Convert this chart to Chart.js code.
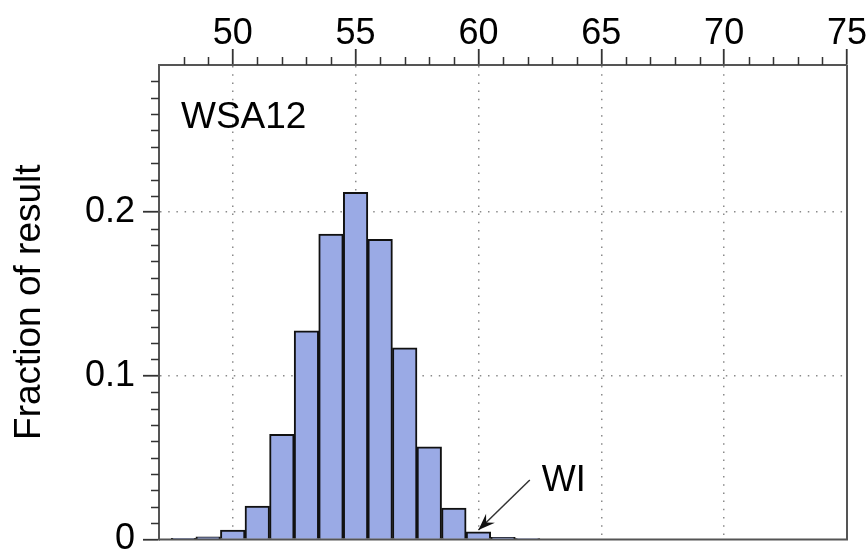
<!DOCTYPE html>
<html>
<head>
<meta charset="utf-8">
<script src="https://cdn.jsdelivr.net/npm/chart.js@4.4.1/dist/chart.umd.min.js"></script>
<style>
  html, body { margin: 0; padding: 0; background: #fff; overflow: hidden; }
  #wrap { width: 868px; height: 580px; }
</style>
</head>
<body>
<div id="wrap"><canvas id="hist" width="868" height="580"></canvas></div>
<script>
/* Histogram · WSA12 · fraction of result per bin */

var BIN_CENTERS = [48, 49, 50, 51, 52, 53, 54, 55, 56, 57, 58, 59, 60, 61, 62];
var FRACTIONS   = [0.0006, 0.0016, 0.0057, 0.0204, 0.0642, 0.1275, 0.1866, 0.2122,
                   0.1835, 0.1171, 0.0566, 0.0192, 0.0047, 0.0013, 0.0005];

var X_TICKS = [50, 55, 60, 65, 70, 75];
var Y_TICKS = [0, 0.1, 0.2];
var Y_TICK_LABELS = ['0', '0.1', '0.2'];

var X_MIN = 47, X_MAX = 75;
var Y_MIN = 0,  Y_MAX = 0.29;

var PANEL_LABEL = 'WSA12';
var ARROW_LABEL = 'WI';
// arrow tail / tip, in data units
var ARROW_FROM = [62.09, 0.0363];
var ARROW_TO   = [60.0, 0.0057];

var FONT = '"Liberation Sans", Arial, Helvetica, sans-serif';
var AXIS = '#555';
var TICK = '#333';
var GRID = '#8a8a8a';
var FILL = '#9aaae5';

var barData = BIN_CENTERS.map(function(x, i) { return { x: x, y: FRACTIONS[i] }; });

var decorPlugin = {
    id: 'decor',
    afterDraw: function(chart) {
        var ctx = chart.ctx;
        var xs = chart.scales.x, ys = chart.scales.y;
        var a = chart.chartArea;
        ctx.save();

        // minor ticks
        ctx.strokeStyle = TICK;
        ctx.lineWidth = 1.5;
        ctx.beginPath();
        for (var v = X_MIN + 1; v < X_MAX; v++) {
            if (v % 5 === 0) continue;
            var px = Math.round(xs.getPixelForValue(v)) + 0.5;
            ctx.moveTo(px, a.top);
            ctx.lineTo(px, a.top - 8);
        }
        for (var k = 1; k < 29; k++) {
            if (k % 10 === 0) continue;
            var py = Math.round(ys.getPixelForValue(k / 100)) + 0.5;
            ctx.moveTo(a.left, py);
            ctx.lineTo(a.left - 8, py);
        }
        ctx.stroke();

        // right and bottom frame
        ctx.strokeStyle = AXIS;
        ctx.lineWidth = 2;
        ctx.beginPath();
        ctx.moveTo(a.right, a.top);
        ctx.lineTo(a.right, a.bottom);
        ctx.lineTo(a.left, a.bottom);
        ctx.stroke();

        // panel label
        ctx.fillStyle = '#000';
        ctx.font = '37px ' + FONT;
        ctx.textBaseline = 'alphabetic';
        ctx.textAlign = 'left';
        ctx.fillText(PANEL_LABEL, a.left + 22, a.top + 63);

        // arrow to the WI bin
        var x0 = xs.getPixelForValue(ARROW_FROM[0]), y0 = ys.getPixelForValue(ARROW_FROM[1]);
        var x1 = xs.getPixelForValue(ARROW_TO[0]),   y1 = ys.getPixelForValue(ARROW_TO[1]);
        ctx.strokeStyle = '#333';
        ctx.lineWidth = 1.5;
        ctx.beginPath();
        ctx.moveTo(x0, y0);
        ctx.lineTo(x1, y1);
        ctx.stroke();
        var ang = Math.atan2(y1 - y0, x1 - x0);
        var len = 18, spread = 0.36;
        ctx.fillStyle = '#111';
        ctx.beginPath();
        ctx.moveTo(x1, y1);
        ctx.lineTo(x1 - len * Math.cos(ang - spread), y1 - len * Math.sin(ang - spread));
        ctx.lineTo(x1 - len * 0.6 * Math.cos(ang), y1 - len * 0.6 * Math.sin(ang));
        ctx.lineTo(x1 - len * Math.cos(ang + spread), y1 - len * Math.sin(ang + spread));
        ctx.closePath();
        ctx.fill();

        ctx.fillStyle = '#000';
        ctx.font = '36px ' + FONT;
        ctx.fillText(ARROW_LABEL, x0 + 12, y0 + 11);

        ctx.restore();
    }
};

new Chart(document.getElementById('hist'), {
    type: 'bar',
    data: {
        datasets: [{
            data: barData,
            backgroundColor: FILL,
            borderColor: '#111',
            borderWidth: 2,
            barPercentage: 1.0,
            categoryPercentage: 1.0
        }]
    },
    options: {
        responsive: false,
        animation: false,
        layout: { padding: { left: 0, top: 0, right: 21, bottom: 40.6 } },
        plugins: { legend: { display: false }, tooltip: { enabled: false } },
        scales: {
            x: {
                type: 'linear',
                position: 'top',
                offset: false,
                min: X_MIN, max: X_MAX,
                afterBuildTicks: function(s) { s.ticks = X_TICKS.map(function(v) { return { value: v }; }); },
                afterFit: function(s) { s.height = 65; },
                ticks: {
                    autoSkip: false, maxRotation: 0, padding: -7,
                    color: '#000',
                    font: { family: FONT, size: 36 }
                },
                grid: {
                    offset: false,
                    color: function(c) { return c.tick && c.tick.value === X_MAX ? 'rgba(0,0,0,0)' : GRID; },
                    lineWidth: 1.5,
                    tickColor: TICK,
                    tickLength: 16,
                    tickWidth: 1.8
                },
                border: { display: true, color: AXIS, width: 2, dash: [1.5, 6.7] }
            },
            y: {
                type: 'linear',
                min: Y_MIN, max: Y_MAX,
                afterBuildTicks: function(s) { s.ticks = Y_TICKS.map(function(v) { return { value: v }; }); },
                afterFit: function(s) { s.width = 159; },
                ticks: {
                    autoSkip: false, padding: 8,
                    color: '#000',
                    font: { family: FONT, size: 36 },
                    callback: function(v) { return Y_TICK_LABELS[Y_TICKS.indexOf(v)]; }
                },
                title: {
                    display: true,
                    text: 'Fraction of result',
                    color: '#000',
                    font: { family: FONT, size: 37 },
                    padding: { top: 8, bottom: 0 }
                },
                grid: {
                    color: function(c) { return c.tick && c.tick.value === 0 ? 'rgba(0,0,0,0)' : GRID; },
                    lineWidth: 1.5,
                    tickColor: TICK,
                    tickLength: 16,
                    tickWidth: 1.8
                },
                border: { display: true, color: AXIS, width: 2, dash: [1.5, 6.7] }
            }
        }
    },
    plugins: [decorPlugin]
});
</script>
</body>
</html>
